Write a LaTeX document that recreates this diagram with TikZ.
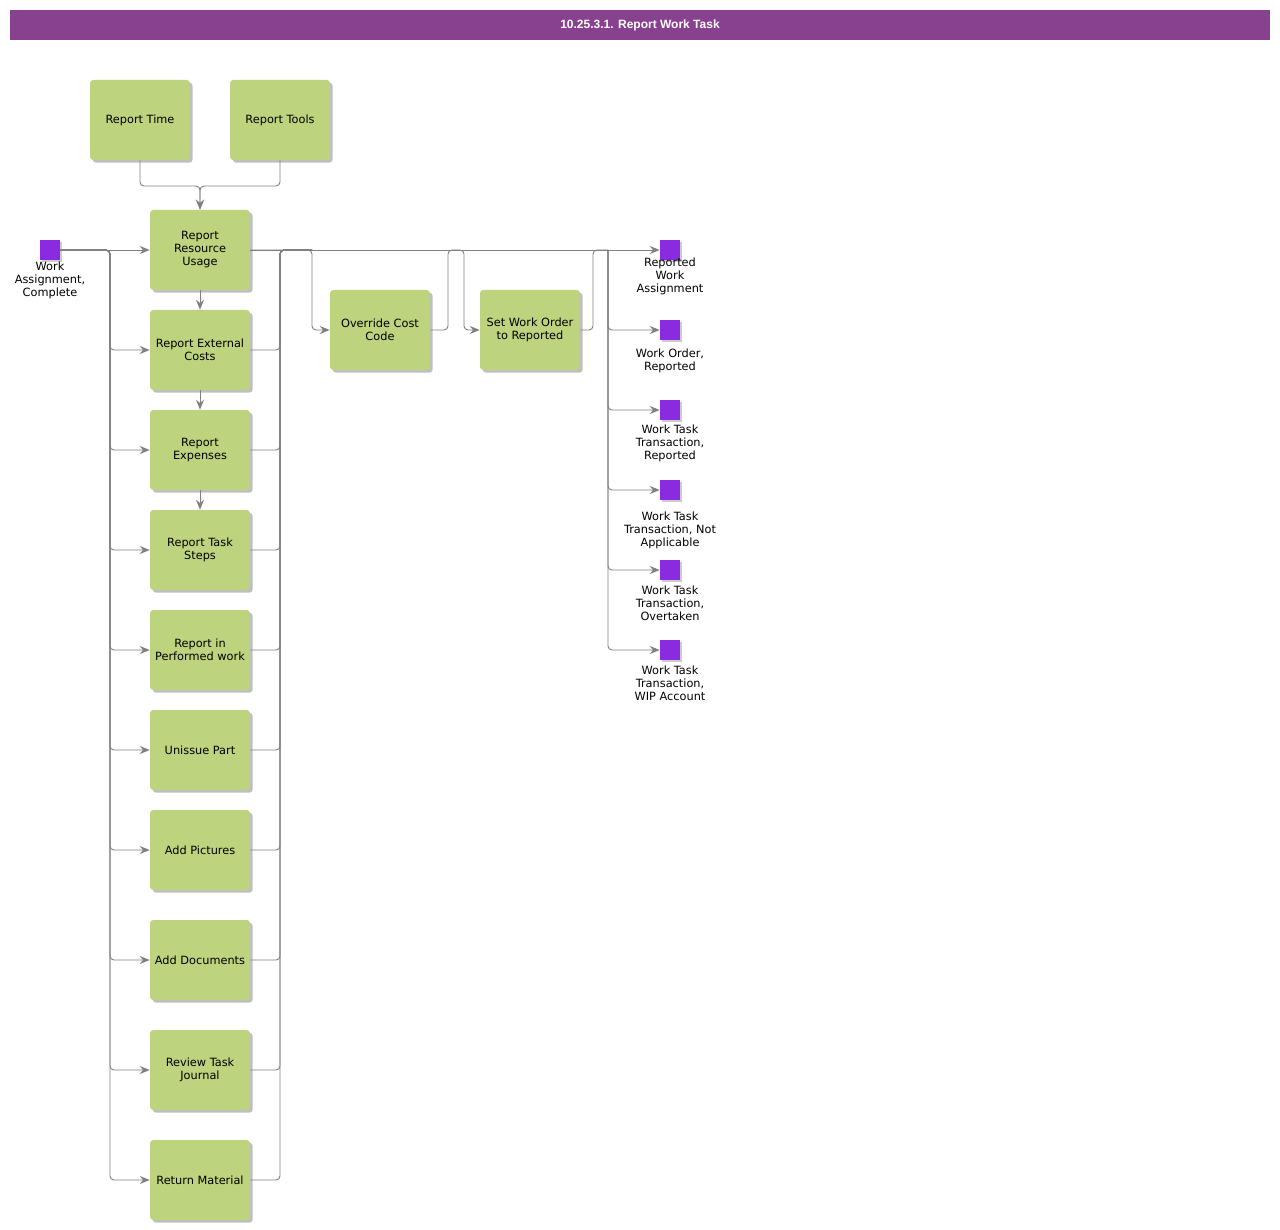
\documentclass[tikz,border=0pt]{standalone}
\usepackage{fontspec}
\setmainfont{DejaVu Sans}
\newfontfamily\titlefont{Liberation Sans}
\usetikzlibrary{shadows,arrows.meta}
\definecolor{boxgreen}{RGB}{189,211,125}
\definecolor{evpurple}{RGB}{138,43,226}
\definecolor{titlepurple}{RGB}{136,65,143}
\definecolor{linegray}{RGB}{128,128,128}
\tikzset{
  taskbox/.style={rectangle, fill=boxgreen, rounded corners=2.5pt, minimum width=75pt, minimum height=60pt,
    align=center, inner sep=0pt, font=\fontsize{8.5}{9.75}\selectfont,
    drop shadow={shadow xshift=2pt, shadow yshift=-2pt, fill=black, opacity=0.25}},
  evbox/.style={rectangle, fill=evpurple, minimum width=15pt, minimum height=15pt, inner sep=0pt,
    drop shadow={shadow xshift=1.2pt, shadow yshift=-1.2pt, fill=black, opacity=0.2}},
  evlabel/.style={align=center, inner sep=0pt, font=\fontsize{8.5}{9.75}\selectfont},
  conn/.style={draw=linegray, line width=0.7pt, rounded corners=3pt},
  arr/.style={conn, -{Stealth[length=7.5pt, width=6pt, inset=2.5pt]}},
}
\begin{document}
\begin{tikzpicture}[x=0.75pt, y=-0.75pt]
\useasboundingbox (0,0) rectangle (1280,1230);
% title bar
\node[fill=titlepurple, minimum width=945pt, minimum height=22.5pt, inner sep=0pt, text=white,
  font=\titlefont\bfseries\fontsize{9}{11}\selectfont] (title) at (640,25) {10.25.3.1. Report Work Task};

% task boxes
\node[taskbox] (rtime) at (140,120) {Report Time};
\node[taskbox] (rtools) at (280,120) {Report Tools};
\node[taskbox] (rru) at (200,250) {Report\\Resource\\Usage};
\node[taskbox] (rec) at (200,350) {Report External\\Costs};
\node[taskbox] (rexp) at (200,450) {Report\\Expenses};
\node[taskbox] (rts) at (200,550) {Report Task\\Steps};
\node[taskbox] (rpw) at (200,650) {Report in\\Performed work};
\node[taskbox] (unp) at (200,750) {Unissue Part};
\node[taskbox] (apic) at (200,850) {Add Pictures};
\node[taskbox] (adoc) at (200,960) {Add Documents};
\node[taskbox] (rtj) at (200,1070) {Review Task\\Journal};
\node[taskbox] (rmat) at (200,1180) {Return Material};
\node[taskbox] (occ) at (380,330) {Override Cost\\Code};
\node[taskbox] (swo) at (530,330) {Set Work Order\\to Reported};

% events
\node[evbox] (wac) at (50,250) {};
\node[evlabel] (wacl) at (50,280.5) {Work\\Assignment,\\Complete};
\node[evbox] (rwa) at (670,250) {};
\node[evlabel] (rwal) at (670,276.5) {Reported\\Work\\Assignment};
\node[evbox] (wor) at (670,330) {};
\node[evlabel] (worl) at (670,361) {Work Order,\\Reported};
\node[evbox] (wttr) at (670,410) {};
\node[evlabel] (wttrl) at (670,443.5) {Work Task\\Transaction,\\Reported};
\node[evbox] (wttna) at (670,490) {};
\node[evlabel] (wttnal) at (670,530.5) {Work Task\\Transaction, Not\\Applicable};
\node[evbox] (wtto) at (670,570) {};
\node[evlabel] (wttol) at (670,603.5) {Work Task\\Transaction,\\Overtaken};
\node[evbox] (wttw) at (670,650) {};
\node[evlabel] (wttwl) at (670,683.5) {Work Task\\Transaction,\\WIP Account};

% junction coordinates
\coordinate (topj) at (200,186);
\coordinate (lbus) at (110,250);
\coordinate (rbus) at (280,250);
\coordinate (occin) at (312,250);
\coordinate (occout) at (448,250);
\coordinate (swoin) at (464,250);
\coordinate (swoout) at (593,250);
\coordinate (evbus) at (608,250);

% top merge
\draw[arr] (rtime.south) -- (rtime.south |- topj) -- (topj) -- (rru.north);
\draw[arr] (rtools.south) -- (rtools.south |- topj) -- (topj) -- (rru.north);

% start event to tasks
\draw[arr] (wac.east) -- (rru.west);
\foreach \t in {rec,rexp,rts,rpw,unp,apic,adoc,rtj,rmat}{
  \draw[arr] (wac.east) -- (lbus) -- (lbus |- \t.west) -- (\t.west);
}

% chain
\draw[arr] (rru.south) -- (rec.north);
\draw[arr] (rec.south) -- (rexp.north);
\draw[arr] (rexp.south) -- (rts.north);

% right bus to override cost code
\draw[arr] (rru.east) -- (occin) -- (occin |- occ.west) -- (occ.west);
\foreach \t in {rec,rexp,rts,rpw,unp,apic,adoc,rtj,rmat}{
  \draw[conn] (\t.east) -- (\t.east -| rbus) -- (rbus) -- (occin);
}
\draw[arr] (rru.east) -- (rwa.west);

% override -> set work order
\draw[arr] (occ.east) -- (occ.east -| occout) -- (occout) -- (swoin) -- (swoin |- swo.west) -- (swo.west);
% set work order -> events
\draw[conn] (swo.east) -- (swo.east -| swoout) -- (swoout) -- (evbus);
\foreach \e in {wor,wttr,wttna,wtto,wttw}{
  \draw[arr] (evbus) -- (evbus |- \e.west) -- (\e.west);
}
\end{tikzpicture}
\end{document}
